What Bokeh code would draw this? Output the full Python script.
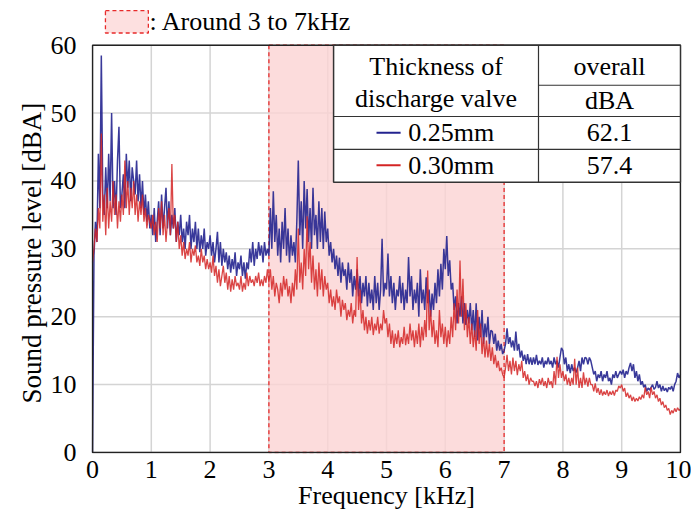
from bokeh.plotting import figure
from bokeh.models import Label, Range1d, FixedTicker, Title
from bokeh.embed import file_html
from bokeh.resources import INLINE

# ---------------- data ----------------
FREQ_STEP_KHZ = 0.025
# Sound pressure level [dBA], thickness 0.25 mm (blue)
spl_025 = [
    0, 29, 34, 31, 44, 36, 58.5, 38, 35, 42, 36, 44, 37, 50, 36, 40, 35, 43, 48, 36,
    38, 41, 36, 44, 39, 43, 37, 42, 40, 38, 43, 37, 41, 36, 40, 35, 38, 34, 37, 33,
    35, 32, 36, 31, 34, 37, 32, 38, 33, 36, 39, 33, 37, 32, 35, 33, 36, 31, 34, 32,
    35, 31, 33, 30, 34, 32, 35, 30, 33, 31, 34, 30, 33, 29.5, 32, 30, 33, 29, 31, 30,
    32, 29, 31, 28, 30, 32.5, 28, 31, 27.5, 30, 28, 29.5, 27, 29, 26.5, 28.5, 27, 29.5, 26, 28,
    27, 29, 26, 28, 25.6, 28, 27, 30, 28, 31, 27.5, 30, 28.5, 31, 29, 30.5, 28, 31, 29, 30,
    29, 36, 30, 38.5, 31, 35, 29, 33, 28, 34, 30, 36, 29, 33, 28, 32, 29, 31, 28, 34,
    43, 32, 37, 30, 40, 33, 38.8, 31, 36, 30, 39, 32, 35, 30, 37, 31, 36, 30, 35.5, 31,
    33, 29, 31, 28, 30, 27, 29, 26, 28.7, 25, 28, 26, 27, 24, 28, 25, 27, 23, 26, 24,
    27, 23, 26, 22, 25, 23, 26, 21.5, 25, 22, 24, 21, 26, 22, 25, 21, 24, 31.5, 23, 25,
    24, 29.3, 23, 26, 22, 25, 21, 24, 23, 26, 22, 25, 21, 24, 22, 28.8, 23, 26, 21, 24,
    22, 25, 20, 27, 22, 24, 21, 25.8, 22, 24, 20, 23.4, 21, 25, 22, 27, 23, 27.8, 24, 30,
    27, 31.9, 26, 28.3, 24, 25, 21, 23, 19, 22, 20, 23, 19, 22, 18.8, 21, 19, 22, 18, 21,
    17, 22, 16.5, 20, 17, 21, 16, 19, 17, 20, 16, 18, 17.8, 16, 17.5, 15, 16.5, 15, 16, 14.5,
    15, 16, 18.3, 16, 17, 15.5, 16.5, 15, 17.8, 15, 16, 14, 15, 13.5, 14.4, 13, 14.5, 13, 14, 12.9,
    14, 13, 14.4, 12.9, 13.5, 13, 14, 12.5, 13.5, 13, 14, 13, 13.5, 12.5, 14, 13, 13.5, 12.5, 14, 15.4,
    15, 13, 14, 12, 13, 11.7, 13, 12, 12.5, 11.8, 12.5, 13.5, 12, 14, 13, 14, 13.9, 13, 14, 13.5,
    12.5, 11.5, 12, 10.5, 11.5, 11, 12, 10.5, 11.5, 11, 12, 10.5, 11, 10, 11.5, 11, 12, 11, 11.5, 12,
    11.5, 12.2, 11, 12, 11.5, 12.5, 13.2, 12, 13, 11, 12, 10.5, 11.5, 10, 10.5, 9.6, 10, 9, 9.5, 9.2,
    9.6, 10, 9.3, 9.6, 10.5, 9.5, 10, 9, 9.8, 9.1, 9.5, 8.9, 9.6, 9.3, 9.8, 9, 10, 10.5, 11.7, 11,
    11.5,
]
# Sound pressure level [dBA], thickness 0.30 mm (red)
spl_030 = [
    28, 30, 33, 31, 36, 33, 47, 34, 38, 32, 39, 33, 37, 34, 40, 35, 38, 33, 37, 34,
    38, 35, 43, 36, 40, 35, 39, 36, 40, 35, 38, 34, 37, 35, 38, 34, 36, 33, 35, 34,
    33, 35, 32, 34, 31, 36, 33, 37, 32, 35, 31, 34, 36, 32, 42.5, 33, 35, 31, 34, 30,
    32, 29, 31, 28.5, 30, 29, 31, 28, 30, 29, 30.5, 28, 29, 27.5, 30, 28, 29, 27, 28.5, 27,
    28, 26.5, 29, 26, 27.5, 25, 27, 24.5, 26, 27.5, 25, 26.5, 24, 26, 23.7, 25.5, 24, 26, 24.5, 25,
    24, 26, 23.7, 25, 24, 26.5, 24.5, 26, 25, 25.5, 24.5, 26, 25, 26.5, 24.5, 25.5, 24.5, 26, 25, 27,
    25, 27, 24, 26, 23, 25, 24, 22, 25, 23, 26, 24, 25.6, 23, 24.5, 22, 25, 23, 27, 24,
    33, 25, 28, 24, 30, 26, 34.8, 27, 31, 25, 29, 24, 27, 23, 28, 24, 27, 23, 26, 24,
    25, 22, 24, 21.5, 23, 21, 24, 22, 23, 20, 22.5, 21, 22, 19.5, 21, 20, 22, 19, 21, 20,
    28.8, 21, 24, 19, 21, 18, 20, 17.5, 19.5, 18, 20, 17.3, 19, 18, 20, 17.5, 19, 18, 21, 19,
    19.8, 17, 19, 16, 18, 15.4, 17.5, 16, 18, 15.5, 17, 16, 18.5, 15.8, 17.5, 16, 19, 16.5, 18, 15.5,
    18, 16, 19, 15.5, 18.5, 16.5, 19.5, 17, 26.8, 18, 21, 17, 19.5, 16, 18, 15.5, 21, 17, 19, 16,
    18.5, 15.5, 18, 16, 20, 17, 22, 18, 24, 19, 28.3, 20, 25.6, 18, 22, 17, 20, 16, 19, 15.5,
    18, 15, 21, 16, 19, 14.5, 17, 14, 16.5, 14, 16, 13.5, 15.5, 13, 14.4, 12.5, 13.5, 12, 12.5, 11.5,
    11, 12.5, 14.4, 12, 13.5, 11.5, 14, 12, 13.5, 11.4, 13, 12, 13.5, 11, 12, 10.5, 11.5, 10, 11, 10.5,
    10.5, 9.8, 10.5, 9.5, 10.8, 10, 11, 9.8, 10.5, 9.5, 11, 10, 10.5, 9.5, 12, 10, 14.1, 11, 13, 11,
    12, 10.5, 11.5, 10, 11, 9.8, 11, 10, 13.8, 10, 12.5, 9.5, 11, 9.5, 11.8, 10, 11, 9.7, 11, 10,
    10, 9, 10.2, 8.8, 9.5, 8.5, 9.3, 8.4, 9, 8.5, 9.2, 8.3, 9, 8.5, 9.1, 8.4, 9.2, 9, 9.8, 9.5,
    10, 9, 9.5, 8.2, 8.8, 8, 8.5, 7.6, 8.2, 7.5, 8, 7.6, 8.2, 7.8, 8.5, 8, 9.6, 8.5, 9, 8,
    9.6, 8.5, 9, 8, 8.5, 7.5, 8, 7, 7.5, 6.6, 7, 6.2, 6.5, 5.6, 6.2, 5.8, 6.5, 6, 6.6, 6.2,
    6.4,
]
freq_khz = [i * FREQ_STEP_KHZ for i in range(len(spl_025))]

band_khz = [3, 7]                      # highlighted band
x_ticks = [0, 1, 2, 3, 4, 5, 6, 7, 8, 9, 10]
y_ticks = [0, 10, 20, 30, 40, 50, 60]
series_labels = ["0.25mm", "0.30mm"]
overall_dba = ["62.1", "57.4"]
band_label = ": Around 3 to 7kHz"

# ---------------- styles / layout ----------------
FONT = "'Liberation Serif', 'Times New Roman', serif"
BLUE = "#23238f"
RED = "#d42424"
PINK = "#fbd3d3"
DASH_RED = "#e82a2a"
TXT = "26px"
X_MIN, X_MAX, Y_MIN, Y_MAX = 0, 10, 0, 60
PX_PER_KHZ = 58.8
PX_PER_DB = 410 / 60.0
PAD_X = 1 / PX_PER_KHZ          # 1px padding so the frame border is not clipped
PAD_Y = 1 / PX_PER_DB
Y_ROOM = Y_MAX + 45 / PX_PER_DB  # room above the axes box for the band legend

p = figure(width=691, height=512,
           x_range=Range1d(X_MIN - PAD_X, X_MAX + PAD_X),
           y_range=Range1d(Y_MIN - PAD_Y, Y_ROOM),
           output_backend="svg", toolbar_location=None,
           min_border_left=91, min_border_right=10, min_border_top=0, min_border_bottom=56)
p.background_fill_color = "white"
p.border_fill_color = "white"
p.outline_line_color = None
p.grid.visible = False

p.xaxis.ticker = FixedTicker(ticks=x_ticks)
p.yaxis.ticker = FixedTicker(ticks=y_ticks)
for ax in (p.xaxis[0], p.yaxis[0]):
    ax.major_label_text_font = FONT
    ax.major_label_text_font_size = "26px"
    ax.major_label_text_color = "black"
    ax.axis_label_text_font = FONT
    ax.axis_label_text_font_size = "26px"
    ax.axis_label_text_font_style = "normal"
    ax.axis_label_text_color = "black"
    ax.major_tick_line_color = None
    ax.minor_tick_line_color = None
    ax.axis_line_color = None
p.xaxis.axis_label = "Frequency [kHz]"
p.xaxis.major_label_standoff = 1
p.xaxis.axis_label_standoff = 0
p.yaxis.major_label_standoff = 9
p.add_layout(Title(text="Sound pressure level [dBA]", text_font=FONT, text_font_size="27px",
                   text_font_style="normal", text_color="black", align="left",
                   offset=50, standoff=2), "left")

# grid lines (only inside the axes box)
p.segment(x0=x_ticks, x1=x_ticks, y0=[Y_MIN] * len(x_ticks), y1=[Y_MAX] * len(x_ticks),
          line_color="#d4d4d4", line_width=1.5)
p.segment(x0=[X_MIN] * len(y_ticks), x1=[X_MAX] * len(y_ticks), y0=y_ticks, y1=y_ticks,
          line_color="#d4d4d4", line_width=1.5)

# highlighted band
p.quad(left=band_khz[0], right=band_khz[1], bottom=Y_MIN, top=Y_MAX,
       fill_color=PINK, fill_alpha=0.8, line_color=DASH_RED, line_dash="4 3", line_width=1.3)

# spectra
p.line(freq_khz, spl_025, line_color=BLUE, line_width=1.5, line_alpha=0.9)
p.line(freq_khz, spl_030, line_color=RED, line_width=1.3, line_alpha=0.85)

# axes box
p.quad(left=X_MIN, right=X_MAX, bottom=Y_MIN, top=Y_MAX, fill_color=None,
       line_color="#222222", line_width=1.5)

# ---------------- table (legend) ----------------
T_L, T_R, T_MID = 4.1, 10.0, 7.585
T_TOP, T_HDR, T_SUB, T_R1, T_BOT = 60.0, 49.5, 54.1, 44.65, 39.8
p.quad(left=T_L, right=T_R, bottom=T_BOT, top=T_TOP, fill_color="white",
       line_color="#333333", line_width=1.5)
p.segment(x0=[T_L, T_L, T_MID, T_MID], x1=[T_R, T_R, T_MID, T_R],
          y0=[T_HDR, T_R1, T_TOP, T_SUB], y1=[T_HDR, T_R1, T_BOT, T_SUB],
          line_color="#333333", line_width=1.2)

def lab(x, y, t, align="center", size=TXT, color="black"):
    p.add_layout(Label(x=x, y=y, text=t, text_font=FONT, text_font_size=size,
                       text_align=align, text_baseline="middle", text_color=color))

cl = (T_L + T_MID) / 2
cr = (T_MID + T_R) / 2
lab(cl, 56.8, "Thickness of")
lab(cl, 52.1, "discharge valve")
lab(cr, 56.8, "overall")
lab(cr, 51.8, "dBA")
row_y = [47.1, 42.3]
for yy, name, val, col in zip(row_y, series_labels, overall_dba, [BLUE, RED]):
    p.segment(x0=[4.83], x1=[5.24], y0=[yy], y1=[yy], line_color=col, line_width=2)
    lab(5.37, yy, name, align="left")
    lab(cr, yy, val)

# ---------------- band legend above the axes box ----------------
p.quad(left=0.22, right=0.95, bottom=61.8, top=65.1, fill_color="#fde0e0",
       line_color=DASH_RED, line_dash="4 3", line_width=1.3)
lab(0.97, 63.5, band_label, align="left")

open("out.html", "w").write(file_html(p, INLINE))
